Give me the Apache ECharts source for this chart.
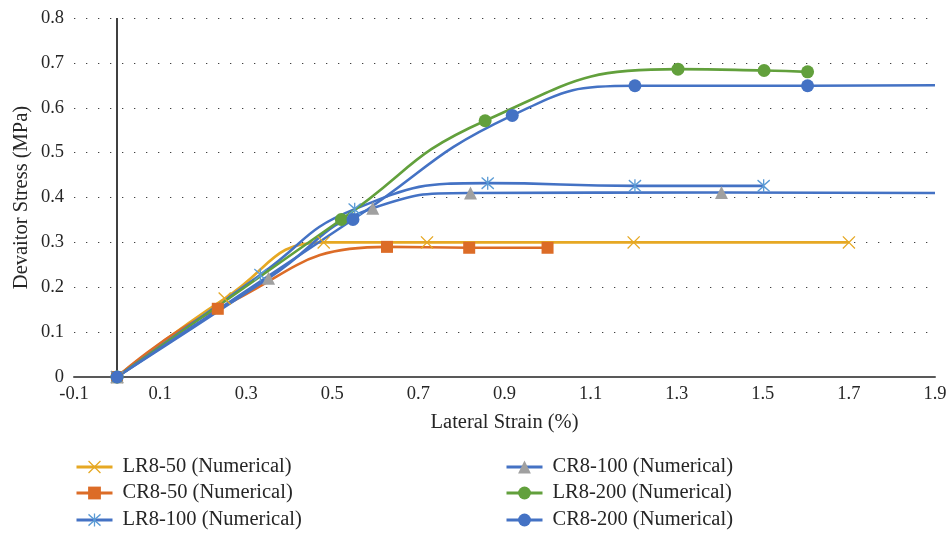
<!DOCTYPE html>
<html>
<head>
<meta charset="utf-8">
<script src="https://cdn.jsdelivr.net/npm/echarts@6/dist/echarts.min.js"></script>
<style>
  html, body { margin: 0; padding: 0; background: #fff; }
  #chart { width: 950px; height: 533px; }
</style>
</head>
<body>
<div id="chart"></div>
<script>
// Lateral strain (%) vs deviator stress (MPa) for each numerical model
const lr50X = [0, 0.25, 0.48, 0.72, 1.2, 1.7];
const lr50Y = [0, 0.175, 0.30, 0.30, 0.30, 0.30];

const cr50X = [0, 0.234, 0.627, 0.818, 1.0];
const cr50Y = [0, 0.152, 0.29, 0.288, 0.288];

const lr100X = [0, 0.333, 0.552, 0.861, 1.203, 1.502];
const lr100Y = [0, 0.228, 0.374, 0.432, 0.426, 0.426];

const cr100X = [0, 0.352, 0.594, 0.821, 1.404, 1.9];
const cr100Y = [0, 0.22, 0.376, 0.41, 0.411, 0.41];

const lr200X = [0, 0.521, 0.855, 1.303, 1.503, 1.604];
const lr200Y = [0, 0.351, 0.571, 0.686, 0.683, 0.680];

const cr200X = [0, 0.548, 0.918, 1.203, 1.604, 1.9];
const cr200Y = [0, 0.351, 0.583, 0.649, 0.649, 0.65];

const seriesNames = [
  'LR8-50 (Numerical)', 'CR8-50 (Numerical)', 'LR8-100 (Numerical)',
  'CR8-100 (Numerical)', 'LR8-200 (Numerical)', 'CR8-200 (Numerical)'
];

const X_MIN = -0.1, X_MAX = 1.9, X_STEP = 0.2;
const Y_MIN = 0, Y_MAX = 0.8, Y_STEP = 0.1;

// marker outlines
const crossPath = 'path://M0 7 L7 0 L50 43 L93 0 L100 7 L57 50 L100 93 L93 100 L50 57 L7 100 L0 93 L43 50 Z';
const starPath = 'path://M0 10 L6 2 L50 40 L94 2 L100 10 L56 50 L100 90 L94 98 L50 60 L6 98 L0 90 L44 50 Z M45 0 L55 0 L55 100 L45 100 Z';

const FONT = "'Liberation Serif', 'Times New Roman', serif";
const TEXT = '#262626';

// pair x/y arrays; the run-out point at the axis end carries no marker
function pts(xs, ys) {
  return xs.map((x, i) => x >= X_MAX ? { value: [x, ys[i]], symbol: 'none' } : [x, ys[i]]);
}

function line(name, xs, ys, lineColor, markColor, symbol, size) {
  return {
    name: name,
    type: 'line',
    data: pts(xs, ys),
    smooth: 0.5,
    symbol: symbol,
    symbolSize: size,
    showAllSymbol: true,
    lineStyle: { color: lineColor, width: 2.6 },
    itemStyle: { color: markColor, borderWidth: 0 },
    emphasis: { disabled: true },
    animation: false
  };
}

const series = [
  line(seriesNames[0], lr50X, lr50Y, '#E6A823', '#E6A823', crossPath, 13),
  line(seriesNames[1], cr50X, cr50Y, '#DC6C27', '#DC6C27', 'rect', 12),
  line(seriesNames[2], lr100X, lr100Y, '#4472C4', '#5B9BD5', starPath, 13),
  line(seriesNames[3], cr100X, cr100Y, '#4472C4', '#A0A0A0', 'triangle', 13),
  line(seriesNames[4], lr200X, lr200Y, '#62A03C', '#62A03C', 'circle', 13),
  line(seriesNames[5], cr200X, cr200Y, '#4472C4', '#4472C4', 'circle', 13)
];

// vertical reference line through zero strain
series[0].markLine = {
  silent: true,
  symbol: 'none',
  label: { show: false },
  lineStyle: { color: '#000', width: 1.5, type: 'solid' },
  data: [{ xAxis: 0 }],
  animation: false,
  z: 1
};

// one legend entry per block: two columns of three rows
const legendCols = [70, 500];
const legendRows = [451, 477, 504];
const legends = seriesNames.map((name, i) => ({
  data: [name],
  left: legendCols[Math.floor(i / 3)],
  top: legendRows[i % 3],
  itemWidth: 36,
  itemHeight: 16,
  lineStyle: { width: 3 },
  textStyle: { fontFamily: FONT, fontSize: 20.5, color: TEXT, lineHeight: 22, padding: [0, 0, 0, 5] },
  selectedMode: false
}));

const chart = echarts.init(document.getElementById('chart'), null, { renderer: 'canvas' });
chart.setOption({
  backgroundColor: '#fff',
  animation: false,
  grid: { left: 74, right: 15, top: 18, bottom: 156, containLabel: false },
  xAxis: {
    type: 'value',
    min: X_MIN, max: X_MAX, interval: X_STEP,
    axisLine: { show: true, lineStyle: { color: '#595959', width: 2 } },
    axisTick: { show: false },
    splitLine: { show: false },
    axisLabel: {
      fontFamily: FONT, fontSize: 18.5, color: TEXT, margin: 8,
      formatter: v => String(Number(v.toFixed(1)))
    },
    name: 'Lateral Strain (%)',
    nameLocation: 'middle',
    nameGap: 35,
    nameMoveOverlap: false,
    nameTextStyle: { fontFamily: FONT, fontSize: 20.5, color: TEXT }
  },
  yAxis: {
    type: 'value',
    min: Y_MIN, max: Y_MAX, interval: Y_STEP,
    axisLine: { show: false },
    axisTick: { show: false },
    splitLine: { show: true, lineStyle: { color: '#404040', width: 1, type: [1.3, 10.7] } },
    axisLabel: {
      fontFamily: FONT, fontSize: 18.5, color: TEXT, margin: 10,
      formatter: v => String(Number(v.toFixed(1)))
    },
    name: 'Devaitor Stress (MPa)',
    nameLocation: 'middle',
    nameRotate: 90,
    nameGap: 42,
    nameMoveOverlap: false,
    nameTextStyle: { fontFamily: FONT, fontSize: 20.5, color: TEXT }
  },
  legend: legends,
  series: series
});
</script>
</body>
</html>
